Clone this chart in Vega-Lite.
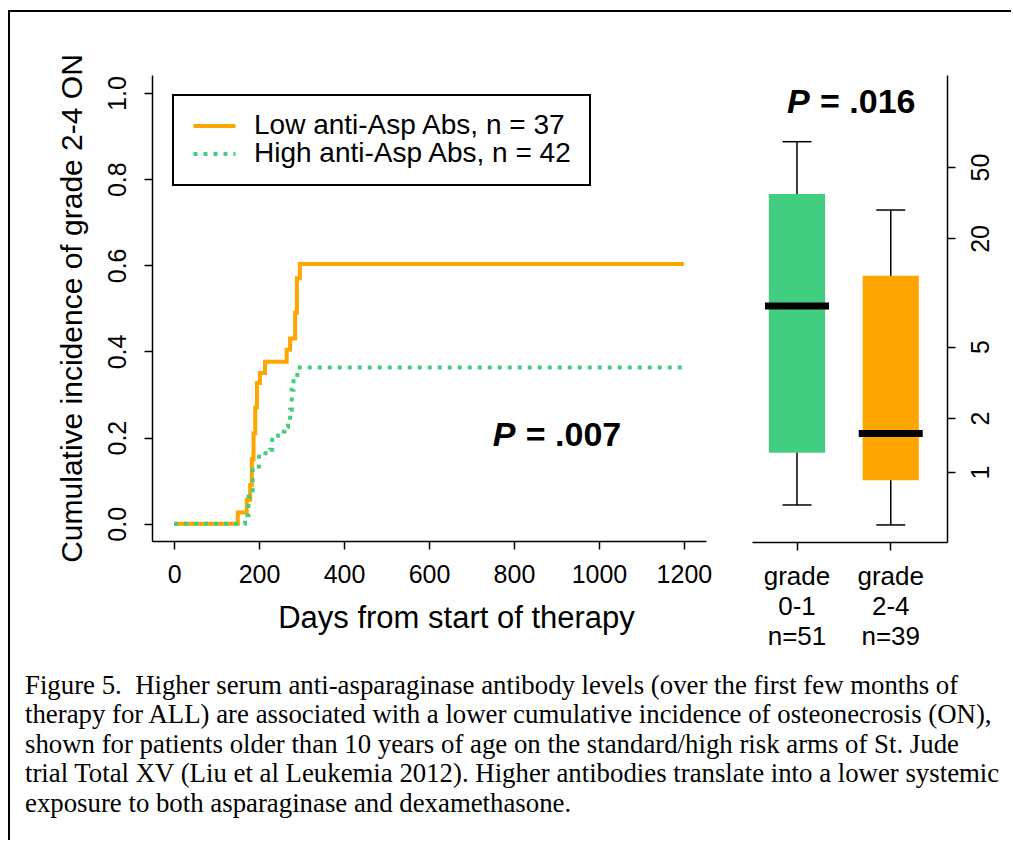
{
  "$schema": "https://vega.github.io/schema/vega-lite/v6.json",
  "width": 1004,
  "height": 831,
  "autosize": {"type": "none"},
  "padding": {"left": 9, "top": 11, "right": -2, "bottom": -2},
  "background": "white",
  "title": {
    "text": [
      "Figure 5.\u00a0 Higher serum anti-asparaginase antibody levels (over the first few months of",
      "therapy for ALL) are associated with a lower cumulative incidence of osteonecrosis (ON),",
      "shown for patients older than 10 years of age on the standard/high risk arms of St. Jude",
      "trial Total XV (Liu et al Leukemia 2012). Higher antibodies translate into a lower systemic",
      "exposure to both asparaginase and dexamethasone."
    ],
    "orient": "bottom",
    "anchor": "start",
    "frame": "group",
    "offset": -169,
    "dx": 16,
    "font": "Liberation Serif",
    "fontSize": 26.8,
    "fontWeight": "normal",
    "lineHeight": 29.4,
    "color": "black",
    "baseline": "top"
  },
  "config": {
    "view": {"stroke": "black", "strokeWidth": 2},
    "font": "Liberation Sans",
    "axis": {
      "grid": false,
      "domainColor": "black",
      "domainWidth": 1.5,
      "tickColor": "black",
      "tickWidth": 1.5,
      "tickSize": 8,
      "labelColor": "black",
      "titleColor": "black",
      "labelFont": "Liberation Sans",
      "titleFont": "Liberation Sans",
      "titleFontWeight": "normal",
      "labelFontSize": 25,
      "titleFontSize": 30,
      "labelOverlap": false,
      "labelFlush": false
    },
    "legend": {"strokeWidth": 2}
  },
  "resolve": {
    "scale": {"x": "independent", "y": "independent", "color": "independent", "strokeDash": "independent"},
    "axis": {"x": "independent", "y": "independent"},
    "legend": {"color": "independent", "strokeDash": "independent"}
  },
  "layer": [
    {
      "data": {
        "values": [
          {"day": 0, "ci": 0, "group": "Low anti-Asp Abs, n = 37"},
          {"day": 150, "ci": 0.026, "group": "Low anti-Asp Abs, n = 37"},
          {"day": 171, "ci": 0.056, "group": "Low anti-Asp Abs, n = 37"},
          {"day": 179, "ci": 0.09, "group": "Low anti-Asp Abs, n = 37"},
          {"day": 183, "ci": 0.15, "group": "Low anti-Asp Abs, n = 37"},
          {"day": 187, "ci": 0.21, "group": "Low anti-Asp Abs, n = 37"},
          {"day": 191, "ci": 0.27, "group": "Low anti-Asp Abs, n = 37"},
          {"day": 195, "ci": 0.327, "group": "Low anti-Asp Abs, n = 37"},
          {"day": 202, "ci": 0.35, "group": "Low anti-Asp Abs, n = 37"},
          {"day": 214, "ci": 0.376, "group": "Low anti-Asp Abs, n = 37"},
          {"day": 265, "ci": 0.404, "group": "Low anti-Asp Abs, n = 37"},
          {"day": 273, "ci": 0.43, "group": "Low anti-Asp Abs, n = 37"},
          {"day": 285, "ci": 0.49, "group": "Low anti-Asp Abs, n = 37"},
          {"day": 289, "ci": 0.57, "group": "Low anti-Asp Abs, n = 37"},
          {"day": 296, "ci": 0.603, "group": "Low anti-Asp Abs, n = 37"},
          {"day": 1200, "ci": 0.603, "group": "Low anti-Asp Abs, n = 37"},
          {"day": 0, "ci": 0, "group": "High anti-Asp Abs, n = 42"},
          {"day": 167, "ci": 0.02, "group": "High anti-Asp Abs, n = 42"},
          {"day": 175, "ci": 0.063, "group": "High anti-Asp Abs, n = 42"},
          {"day": 185, "ci": 0.133, "group": "High anti-Asp Abs, n = 42"},
          {"day": 200, "ci": 0.164, "group": "High anti-Asp Abs, n = 42"},
          {"day": 226, "ci": 0.172, "group": "High anti-Asp Abs, n = 42"},
          {"day": 231, "ci": 0.195, "group": "High anti-Asp Abs, n = 42"},
          {"day": 245, "ci": 0.205, "group": "High anti-Asp Abs, n = 42"},
          {"day": 252, "ci": 0.214, "group": "High anti-Asp Abs, n = 42"},
          {"day": 260, "ci": 0.225, "group": "High anti-Asp Abs, n = 42"},
          {"day": 268, "ci": 0.237, "group": "High anti-Asp Abs, n = 42"},
          {"day": 273, "ci": 0.265, "group": "High anti-Asp Abs, n = 42"},
          {"day": 277, "ci": 0.311, "group": "High anti-Asp Abs, n = 42"},
          {"day": 281, "ci": 0.338, "group": "High anti-Asp Abs, n = 42"},
          {"day": 290, "ci": 0.363, "group": "High anti-Asp Abs, n = 42"},
          {"day": 1200, "ci": 0.363, "group": "High anti-Asp Abs, n = 42"}
        ]
      },
      "layer": [
        {
          "mark": {"type": "line", "interpolate": "step-after", "strokeWidth": 4},
          "encoding": {
            "x": {
              "field": "day", "type": "quantitative",
              "scale": {"domain": [-52, 1252], "range": [143, 697], "nice": false, "zero": false},
              "axis": {
                "orient": "bottom", "offset": -301,
                "values": [0, 200, 400, 600, 800, 1000, 1200],
                "format": "d",
                "labelPadding": 13,
                "title": "Days from start of therapy",
                "titleFontSize": 31,
                "titlePadding": 16,
                "titleX": 447
              }
            },
            "y": {
              "field": "ci", "type": "quantitative",
              "scale": {"domain": [-0.04, 1.042], "range": [530, 64], "nice": false, "zero": false},
              "axis": {
                "orient": "left", "offset": -143,
                "values": [0, 0.2, 0.4, 0.6, 0.8, 1],
                "format": ".1f",
                "labelAngle": 270, "labelAlign": "center", "labelBaseline": "bottom",
                "labelPadding": 14,
                "title": "Cumulative incidence of grade 2-4 ON",
                "titlePadding": 18
              }
            },
            "color": {
              "field": "group", "type": "nominal",
              "scale": {"domain": ["Low anti-Asp Abs, n = 37", "High anti-Asp Abs, n = 42"], "range": ["#FFA500", "#43CD80"]},
              "legend": {
                "title": null, "orient": "none", "legendX": 164, "legendY": 84,
                "strokeColor": "black", "padding": 17,
                "symbolType": "M-1,0L3,0", "symbolSize": 441, "symbolStrokeWidth": 4,
                "labelFontSize": 28, "labelColor": "black", "labelOffset": 36, "labelLimit": 600, "rowPadding": 0
              }
            },
            "strokeDash": {
              "field": "group", "type": "nominal",
              "scale": {"domain": ["Low anti-Asp Abs, n = 37", "High anti-Asp Abs, n = 42"], "range": [[1, 0], [4, 6]]},
              "legend": {
                "title": null, "orient": "none", "legendX": 164, "legendY": 84,
                "strokeColor": "black", "padding": 17,
                "symbolType": "M-1,0L3,0", "symbolSize": 441, "symbolStrokeWidth": 4,
                "labelFontSize": 28, "labelColor": "black", "labelOffset": 36, "labelLimit": 600, "rowPadding": 0
              }
            }
          }
        },
        {
          "data": {"values": [{"day": 750, "ci": 0.18, "label": "P"}]},
          "mark": {"type": "text", "fontStyle": "italic", "fontWeight": "bold", "fontSize": 34, "align": "left", "baseline": "alphabetic", "color": "black"},
          "encoding": {
            "x": {"field": "day", "type": "quantitative"},
            "y": {"field": "ci", "type": "quantitative"},
            "text": {"field": "label"}
          }
        },
        {
          "data": {"values": [{"day": 750, "ci": 0.18, "label": "= .007"}]},
          "mark": {"type": "text", "fontWeight": "bold", "fontSize": 34, "align": "left", "baseline": "alphabetic", "dx": 33, "color": "black"},
          "encoding": {
            "x": {"field": "day", "type": "quantitative"},
            "y": {"field": "ci", "type": "quantitative"},
            "text": {"field": "label"}
          }
        }
      ]
    },
    {
      "data": {
        "values": [
          {"grade": "grade 0-1 n=51", "lo": 0.655, "q1": 1.28, "med": 8.41, "q3": 35.4, "hi": 69.2},
          {"grade": "grade 2-4 n=39", "lo": 0.507, "q1": 0.9, "med": 1.64, "q3": 12.4, "hi": 28.8}
        ]
      },
      "encoding": {
        "x": {
          "field": "grade", "type": "nominal", "sort": null, "title": null,
          "scale": {"type": "band", "range": [743, 938], "paddingInner": 0.4, "paddingOuter": 0.24, "align": 0.375},
          "axis": {
            "orient": "bottom", "offset": -300, "title": null,
            "labelAngle": 0, "labelExpr": "split(datum.label, ' ')",
            "labelLineHeight": 30, "labelPadding": 13, "labelBaseline": "top",
            "labelFontSize": 26, "bandPosition": 0.5
          }
        }
      },
      "layer": [
        {
          "mark": {"type": "rule", "color": "black", "strokeWidth": 1.5},
          "encoding": {
            "y": {
              "field": "lo", "type": "quantitative", "title": null,
              "scale": {"type": "log", "domain": [0.4074, 162.8], "range": [531, 64], "nice": false},
              "axis": {
                "orient": "right", "offset": -66, "title": null,
                "values": [1, 2, 5, 20, 50], "format": "d",
                "labelAngle": 270, "labelAlign": "center", "labelBaseline": "top",
                "labelPadding": 13
              }
            },
            "y2": {"field": "hi"}
          }
        },
        {
          "mark": {"type": "tick", "color": "black", "opacity": 1, "size": 29, "thickness": 1.5},
          "encoding": {"y": {"field": "lo", "type": "quantitative", "title": null}}
        },
        {
          "mark": {"type": "tick", "color": "black", "opacity": 1, "size": 29, "thickness": 1.5},
          "encoding": {"y": {"field": "hi", "type": "quantitative", "title": null}}
        },
        {
          "mark": {"type": "bar", "opacity": 1},
          "encoding": {
            "y": {"field": "q1", "type": "quantitative", "title": null},
            "y2": {"field": "q3"},
            "color": {"field": "grade", "type": "nominal", "scale": {"range": ["#43CD80", "#FFA500"]}, "legend": null}
          }
        },
        {
          "mark": {"type": "tick", "color": "black", "opacity": 1, "size": 64, "thickness": 7},
          "encoding": {"y": {"field": "med", "type": "quantitative", "title": null}}
        },
        {
          "data": {"values": [{"grade": "grade 0-1 n=51", "v": 100, "label": "P"}]},
          "mark": {"type": "text", "fontStyle": "italic", "fontWeight": "bold", "fontSize": 34, "align": "left", "baseline": "alphabetic", "dx": -10, "color": "black"},
          "encoding": {
            "y": {"field": "v", "type": "quantitative", "title": null},
            "text": {"field": "label"}
          }
        },
        {
          "data": {"values": [{"grade": "grade 0-1 n=51", "v": 100, "label": "= .016"}]},
          "mark": {"type": "text", "fontWeight": "bold", "fontSize": 34, "align": "left", "baseline": "alphabetic", "dx": 23, "color": "black"},
          "encoding": {
            "y": {"field": "v", "type": "quantitative", "title": null},
            "text": {"field": "label"}
          }
        }
      ]
    }
  ]
}
